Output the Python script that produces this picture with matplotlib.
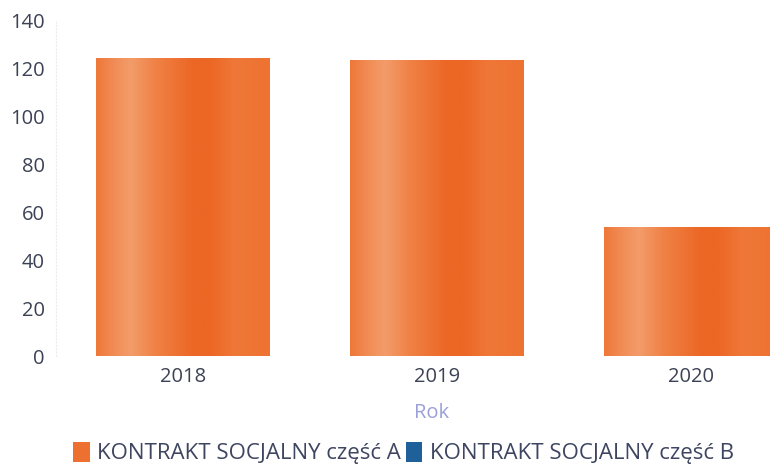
import matplotlib
matplotlib.use("Agg")
import matplotlib.pyplot as plt
import numpy as np
from matplotlib.colors import LinearSegmentedColormap
from matplotlib.patches import Rectangle

years = ["2018", "2019", "2020"]
values_a = [124.5, 123.8, 54.0]
values_b = [0, 0, 0]
series_names = ["KONTRAKT SOCJALNY część A", "KONTRAKT SOCJALNY część B"]
yticks = [0, 20, 40, 60, 80, 100, 120, 140]

plt.rcParams['font.family'] = ['Open Sans', 'DejaVu Sans']

fig = plt.figure(figsize=(7.7, 4.7), dpi=100)
ax = fig.add_axes([56/770, 114/470, (818-56)/770, (449-114)/470])

stops = [(0.0, (238,120,56)), (0.10, (241,140,86)), (0.20, (243,156,106)),
         (0.34, (240,130,70)), (0.55, (236,104,38)), (0.65, (236,102,36)),
         (0.80, (239,120,56)), (1.0, (238,114,48))]
cmap = LinearSegmentedColormap.from_list("bar", [(p, tuple(c/255 for c in col)) for p, col in stops])
grad = np.linspace(0, 1, 256).reshape(1, -1)

x = np.arange(len(years))
width = 0.685
bars = ax.bar(x, values_a, width=width, color="#ee7030", zorder=2)
for b in bars:
    bx, by = b.get_x(), b.get_y()
    bw, bh = b.get_width(), b.get_height()
    im = ax.imshow(grad, cmap=cmap, aspect='auto', extent=[bx, bx+bw, by, by+bh], zorder=3)
    im.set_clip_path(b)
ax.bar(x, values_b, width=width, bottom=values_a, color="#1f5f9a", zorder=2)

ax.set_xlim(-0.5, 2.5)
ax.set_ylim(0, 140)
ax.set_yticks(yticks)
ax.set_xticks(x)
ax.set_xticklabels(years)
for s in ["top", "right", "bottom"]:
    ax.spines[s].set_visible(False)
ax.spines["left"].set_color("#ececec")
ax.spines["left"].set_linestyle((0, (1, 2)))
ax.tick_params(axis='both', length=0, labelsize=14.5, colors="#3c4255")
ax.tick_params(axis='y', pad=8)
ax.tick_params(axis='x', pad=8)

fig.text(432/770, (470-413)/470, "Rok", ha='center', va='center', fontsize=14.5, color="#9aa0d8")

handles = [Rectangle((0, 0), 1, 1, facecolor="#ee7030"), Rectangle((0, 0), 1, 1, facecolor="#1f5f9a")]
leg = fig.legend(handles, series_names, loc='center left', bbox_to_anchor=(73/770, (470-453)/470),
                 ncol=2, frameon=False, fontsize=16.0, handlelength=0.75, handleheight=1.05,
                 handletextpad=0.35, columnspacing=0.2, borderpad=0, borderaxespad=0)
for t in leg.get_texts():
    t.set_color("#3e4560")

fig.savefig("out.png", dpi=100)
